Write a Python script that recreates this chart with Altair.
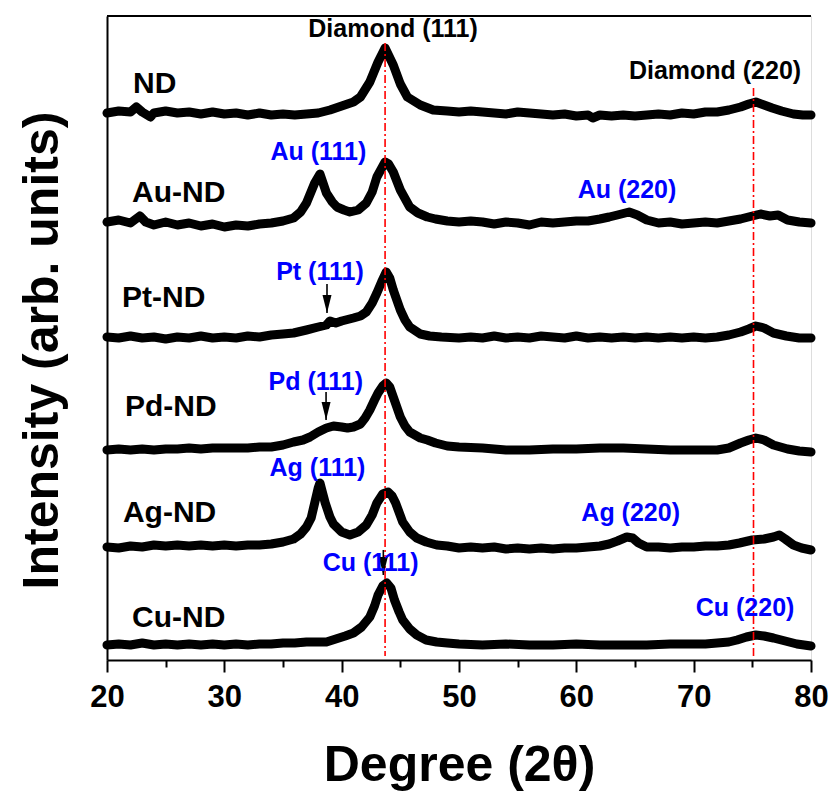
import altair as alt
import pandas as pd

# ---- XRD traces: 2theta (deg) and stacked intensity (arb. units) ----
x_nd = [20, 21, 22, 22.5, 23, 23.7, 24, 25, 26, 27, 28, 29, 30, 31, 32, 33, 34, 35, 36, 37, 38, 39, 40, 41, 41.6, 42.4, 43.1, 43.7, 44.4, 45.0, 45.6, 46.7, 47.8, 49, 50, 51, 52, 53, 54, 55, 56, 57, 58, 59, 60, 61, 61.4, 62, 63, 64, 65, 66, 67, 68, 69, 70, 71, 72, 73, 74, 74.7, 75.3, 76, 76.7, 77.5, 78.5, 79.3, 80]
h_nd = [547, 549, 548, 553, 548, 543, 547, 549, 547, 548, 546, 548, 546, 547, 545, 547, 545, 546, 545, 546, 547, 550, 554, 558, 563, 578, 598, 612, 595, 576, 563, 555, 550, 549, 548, 549, 548, 547, 546, 548, 547, 546, 545, 546, 544, 545, 542, 545, 544, 545, 544, 545, 546, 545, 547, 546, 548, 548, 550, 553, 556, 558, 555, 552, 549, 546, 545, 545]

x_au = [20, 21, 22, 22.8, 23.3, 24, 25, 26, 27, 28, 29, 30, 31, 32, 33, 34, 35, 35.9, 36.5, 37.0, 37.7, 38.15, 38.7, 39.2, 39.6, 40.2, 40.7, 41.4, 42.1, 42.6, 43.0, 43.7, 44.0, 44.4, 45.0, 45.8, 46.5, 47.3, 48, 49, 50, 51, 52, 53, 54, 55, 56, 57, 58, 59, 60, 61, 62, 62.8, 63.5, 64.5, 65.2, 66, 67, 68, 69, 70, 71, 72, 73, 74, 75, 75.7, 76.5, 77.2, 78, 79, 80]
h_au = [438, 440, 437, 444, 438, 435, 438, 435, 437, 434, 436, 433, 435, 434, 436, 437, 439, 442, 448, 457, 477, 486, 467, 458, 453, 450, 448, 450, 457, 468, 483, 498, 496, 488, 470, 453, 447, 443, 441, 439, 438, 439, 438, 436, 438, 437, 435, 438, 437, 438, 439, 439, 441, 443, 445, 448, 445, 440, 437, 438, 436, 437, 438, 437, 439, 441, 444, 446, 444, 445, 440, 438, 437]

x_pt = [20, 21, 22, 23, 24, 25, 26, 27, 28, 29, 30, 31, 32, 33, 34, 35, 35.9, 37, 38, 38.7, 39.0, 39.5, 40, 41, 41.6, 42.1, 42.6, 43.0, 43.4, 43.8, 44.1, 44.4, 45.0, 45.4, 45.8, 46.7, 47.5, 48.5, 50, 51, 52, 53, 54, 55, 56, 57, 58, 59, 60, 61, 62, 63, 64, 65, 66, 67, 68, 69, 70, 71, 72, 73, 74, 74.7, 75.3, 76, 76.8, 77.9, 79, 80]
h_pt = [323, 322, 324, 322, 323, 321, 323, 322, 324, 322, 323, 322, 324, 323, 325, 326, 327, 330, 333, 335, 339, 337, 339, 342, 344, 348, 357, 367, 378, 388, 382, 370, 350, 340, 333, 326, 324, 323, 322, 323, 322, 324, 322, 323, 322, 324, 323, 322, 324, 322, 323, 322, 323, 322, 323, 322, 323, 322, 323, 322, 323, 325, 328, 331, 334, 332, 327, 324, 322, 322]

x_pd = [20, 21, 22, 23, 24, 25, 26, 27, 28, 29, 30, 31, 32, 33, 34, 35, 35.9, 36.7, 37.3, 38, 38.7, 39.3, 40, 40.5, 41, 41.6, 42.0, 42.4, 42.8, 43.1, 43.5, 43.8, 44.1, 44.4, 45.0, 45.4, 45.8, 46.7, 47.3, 48, 49, 50, 52, 54, 56, 58, 60, 62, 64, 66, 68, 70, 72, 73, 74, 74.7, 75.3, 76, 76.8, 78, 79, 80]
h_pd = [210, 211, 210, 211, 210, 211, 211, 212, 211, 212, 212, 212, 212, 213, 213, 215, 218, 220, 223, 228, 232, 234, 233, 232, 233, 236, 242, 250, 260, 267, 274, 277, 273, 263, 243, 234, 228, 222, 220, 217, 214, 213, 212, 210, 210, 211, 211, 212, 212, 211, 210, 210, 210, 212, 217, 220, 222, 220, 215, 211, 209, 208]

x_ag = [20, 21, 22, 23, 24, 25, 26, 27, 28, 29, 30, 31, 32, 33, 34, 35, 35.9, 36.5, 37.0, 37.4, 37.7, 38.0, 38.15, 38.35, 38.6, 39.0, 39.3, 40.0, 40.7, 41.4, 42.1, 42.6, 43.0, 43.5, 43.95, 44.3, 44.6, 45.2, 45.8, 46.4, 47.2, 48.1, 49, 50, 51, 52, 53, 54, 55, 56, 57, 58, 59, 60, 61, 62, 62.8, 63.5, 64.3, 64.8, 65.3, 66, 67, 68, 69, 70, 71, 72, 73, 73.9, 75, 76, 76.8, 77.3, 77.8, 78.5, 79.2, 80]
h_ag = [113, 112, 114, 113, 115, 114, 115, 114, 115, 114, 115, 114, 115, 115, 116, 118, 121, 126, 133, 142, 157, 172, 177, 168, 157, 143, 136, 128, 125, 128, 135, 145, 157, 166, 168, 164, 157, 138, 128, 122, 118, 115, 114, 112, 113, 112, 113, 111, 112, 111, 112, 111, 112, 112, 113, 114, 116, 119, 123, 122, 117, 113, 113, 112, 113, 113, 114, 114, 115, 117, 120, 121, 123, 125, 121, 115, 112, 110]

x_cu = [20, 21, 22, 23, 24, 25, 26, 27, 28, 29, 30, 31, 32, 33, 34, 35, 36, 37, 38, 38.7, 39.5, 40.3, 41.0, 41.7, 42.4, 42.8, 43.1, 43.5, 43.85, 44.2, 44.5, 44.9, 45.2, 45.8, 46.4, 47.2, 48.1, 49, 50, 52, 54, 56, 58, 60, 62, 64, 66, 68, 70, 71, 72, 73, 73.7, 74.5, 75.3, 76, 76.8, 77.8, 78.8, 80]
h_cu = [15, 16, 15, 17, 15, 16, 15, 16, 15, 16, 15, 16, 15, 16, 16, 17, 17, 18, 18, 18, 21, 24, 27, 33, 43, 54, 65, 74, 77, 72, 60, 48, 40, 31, 25, 20, 18, 17, 16, 15, 16, 15, 15, 16, 15, 15, 15, 16, 16, 16, 17, 18, 20, 23, 25, 24, 22, 19, 16, 14]

sample_names = ["ND", "Au-ND", "Pt-ND", "Pd-ND", "Ag-ND", "Cu-ND"]
sample_x = [22.22, 22.13, 21.28, 21.53, 21.36, 22.13]
sample_h = [576, 467, 362, 253, 147.5, 42]

peak_labels = ["Diamond (111)", "Diamond (220)", "Au (111)", "Au (220)", "Pt (111)",
               "Pd (111)", "Ag (111)", "Ag (220)", "Cu (111)", "Cu (220)"]
peak_x = [44.38, 71.82, 38.01, 64.32, 38.15, 37.80, 37.94, 64.63, 42.47, 74.38]
peak_h = [631, 589, 508, 470, 388, 278, 192, 147, 97, 52]
peak_color = ["black", "black", "blue", "blue", "blue", "blue", "blue", "blue", "blue", "blue"]

ref_x = [43.7, 75.1]
ref_top = [617, 572]
ref_bottom = [4, 4]

arrow_x = [38.75, 38.67, 43.55]
arrow_tail = [376, 268, 110]
arrow_tip = [347, 240, 85]

tick_values = [20, 25, 30, 35, 40, 45, 50, 55, 60, 65, 70, 75, 80]
x_domain = [20, 80]
y_domain = [0, 644]

# ---- tables ----
traces = [("ND", x_nd, h_nd), ("Au-ND", x_au, h_au), ("Pt-ND", x_pt, h_pt),
          ("Pd-ND", x_pd, h_pd), ("Ag-ND", x_ag, h_ag), ("Cu-ND", x_cu, h_cu)]
rows = []
for name, xs_, hs_ in traces:
    for xv, hv in zip(xs_, hs_):
        rows.append({"sample": name, "deg": xv, "h": hv})
df = pd.DataFrame(rows)

df_names = pd.DataFrame({"label": sample_names, "deg": sample_x, "h": sample_h})
df_peaks = pd.DataFrame({"label": peak_labels, "deg": peak_x, "h": peak_h, "col": peak_color})
df_ref = pd.DataFrame({"deg": ref_x, "top": ref_top, "bot": ref_bottom})
df_arrow = pd.DataFrame({"deg": arrow_x, "tail": arrow_tail, "tip": arrow_tip})
df_frame = pd.DataFrame({"x0": [x_domain[0]], "x1": [x_domain[1]], "ytop": [y_domain[1]]})

FONT = "Liberation Sans"
xs = alt.Scale(domain=x_domain, nice=False, zero=False)
ys = alt.Scale(domain=y_domain, nice=False, zero=False)

x_axis = alt.Axis(
    orient="bottom", values=tick_values,
    tickSize={"condition": {"test": "datum.value % 10 !== 0", "value": 7}, "value": 12},
    tickWidth=2, tickColor="black",
    labelExpr="datum.value % 10 === 0 ? datum.label : ''",
    domain=True, domainColor="black", domainWidth=2, grid=False, labelFlush=False,
    labelFont=FONT, labelFontSize=31, labelFontWeight="bold",
    labelColor="black", labelPadding=10, title="Degree (2θ)", titleFont=FONT,
    titleFontSize=50, titleFontWeight="bold", titleColor="black", titlePadding=28)

y_axis = alt.Axis(
    orient="left", labels=False, ticks=False, domain=True, domainColor="black", domainWidth=2,
    grid=False, title="Intensity (arb. units)",
    titleFont=FONT, titleFontSize=50, titleFontWeight="bold", titleColor="black",
    titlePadding=40, titleY=334)

lines = alt.Chart(df).mark_line(color="black", strokeWidth=9, strokeJoin="round", strokeCap="round").encode(
    x=alt.X("deg:Q", scale=xs, axis=x_axis),
    y=alt.Y("h:Q", scale=ys, axis=y_axis),
    detail="sample:N",
)

frame_top = alt.Chart(df_frame).mark_rule(color="black", strokeWidth=2).encode(
    x=alt.X("x0:Q", scale=xs),
    x2="x1:Q",
    y=alt.Y("ytop:Q", scale=ys),
)

refs = alt.Chart(df_ref).mark_rule(color="red", strokeWidth=1.6, strokeDash=[8, 3, 2, 3]).encode(
    x=alt.X("deg:Q", scale=xs),
    y=alt.Y("top:Q", scale=ys),
    y2="bot:Q",
)

arrow_shaft = alt.Chart(df_arrow).mark_rule(color="black", strokeWidth=1.6).encode(
    x=alt.X("deg:Q", scale=xs),
    y=alt.Y("tail:Q", scale=ys),
    y2="tip:Q",
)

arrow_head = alt.Chart(df_arrow).mark_point(
    shape="M-1,-4L1,-4L0,0Z", filled=True, color="black", opacity=1, size=80
).encode(
    x=alt.X("deg:Q", scale=xs),
    y=alt.Y("tip:Q", scale=ys),
)

names = alt.Chart(df_names).mark_text(
    font=FONT, fontSize=30, fontWeight="bold", align="left", baseline="middle", color="black"
).encode(
    x=alt.X("deg:Q", scale=xs),
    y=alt.Y("h:Q", scale=ys),
    text="label:N",
)

peaks = alt.Chart(df_peaks).mark_text(
    font=FONT, fontSize=25, fontWeight="bold", align="center", baseline="middle"
).encode(
    x=alt.X("deg:Q", scale=xs),
    y=alt.Y("h:Q", scale=ys),
    text="label:N",
    color=alt.Color("col:N", scale=None),
)

chart = alt.layer(lines, frame_top, refs, arrow_shaft, arrow_head, names, peaks).properties(
    width=704, height=644,
    autosize=alt.AutoSizeParams(type="none"),
    padding={"left": 107, "top": 16, "right": 21, "bottom": 137},
).configure_view(stroke="black", strokeWidth=2).configure(background="white")

chart.save("out.html", embed_options={"renderer": "svg", "actions": False})
